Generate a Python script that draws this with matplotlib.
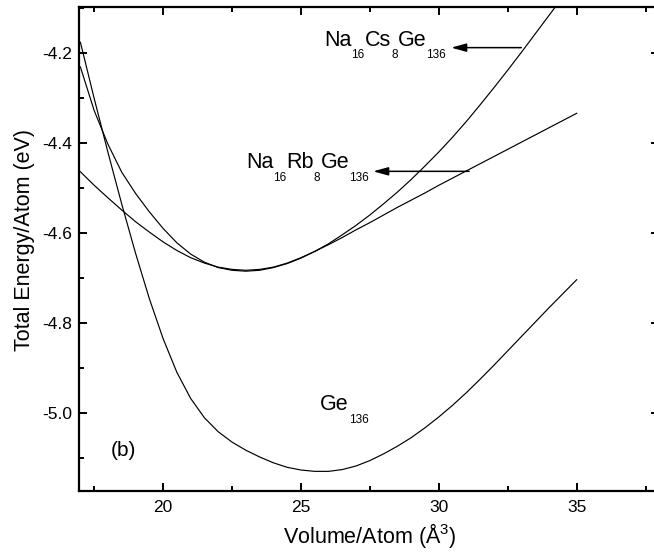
import matplotlib
matplotlib.use("Agg")
import matplotlib.pyplot as plt
from matplotlib.ticker import MultipleLocator

plt.rcParams['font.family'] = ['Liberation Sans', 'DejaVu Sans']
plt.rcParams['mathtext.fontset'] = 'custom'
plt.rcParams['mathtext.rm'] = 'Liberation Sans'

# Ge136
ge_v = [17.0, 17.5, 18.0, 18.5, 19.0, 19.5, 20.0, 20.5, 21.0, 21.5, 22.0, 22.5, 23.0, 23.5,
        24.0, 24.5, 25.0, 25.5, 26.0, 26.5, 27.0, 27.5, 28.0, 28.5, 29.0, 29.5, 30.0, 30.5,
        31.0, 31.5, 32.0, 32.5, 33.0, 33.5, 34.0, 34.5, 35.0]
ge_e = [-4.176, -4.301, -4.421, -4.536, -4.645, -4.746, -4.835, -4.910, -4.968, -5.011,
        -5.042, -5.065, -5.083, -5.098, -5.111, -5.121, -5.127, -5.130, -5.130, -5.126,
        -5.118, -5.106, -5.091, -5.074, -5.055, -5.033, -5.009, -4.983, -4.955, -4.925,
        -4.894, -4.862, -4.830, -4.798, -4.766, -4.735, -4.704]

# Na16Cs8Ge136
cs_v = [17.0, 17.5, 18.0, 18.5, 19.0, 19.5, 20.0, 20.5, 21.0, 21.5, 22.0, 22.5, 23.0, 23.5,
        24.0, 24.5, 25.0, 25.5, 26.0, 26.5, 27.0, 27.5, 28.0, 28.5, 29.0, 29.5, 30.0, 30.5,
        31.0, 31.5, 32.0, 32.5, 33.0, 33.5, 34.0, 34.5]
cs_e = [-4.231, -4.328, -4.403, -4.465, -4.512, -4.553, -4.590, -4.622, -4.647, -4.665,
        -4.677, -4.683, -4.685, -4.683, -4.677, -4.668, -4.656, -4.641, -4.624, -4.604,
        -4.583, -4.560, -4.535, -4.509, -4.481, -4.451, -4.420, -4.387, -4.352, -4.315,
        -4.277, -4.238, -4.198, -4.157, -4.116, -4.075]

# Na16Rb8Ge136
rb_v = [17.0, 17.5, 18.0, 18.5, 19.0, 19.5, 20.0, 20.5, 21.0, 21.5, 22.0, 22.5, 23.0, 23.5,
        24.0, 24.5, 25.0, 25.5, 26.0, 26.5, 27.0, 27.5, 28.0, 28.5, 29.0, 29.5, 30.0, 30.5,
        31.0, 32.0, 33.0, 34.0, 35.0]
rb_e = [-4.464, -4.494, -4.522, -4.549, -4.575, -4.598, -4.620, -4.639, -4.655, -4.667,
        -4.676, -4.681, -4.683, -4.681, -4.676, -4.667, -4.655, -4.641, -4.626, -4.610,
        -4.593, -4.577, -4.560, -4.543, -4.527, -4.511, -4.494, -4.478, -4.462, -4.430,
        -4.398, -4.366, -4.334]

x_ticks = [20, 25, 30, 35]
y_ticks = [-5.0, -4.8, -4.6, -4.4, -4.2]

fig = plt.figure(figsize=(6.54, 5.57), dpi=100)
ax = fig.add_axes([79.3/654, 66.3/557, 580.1/654, 484.0/557])

for v, e in [(ge_v, ge_e), (cs_v, cs_e), (rb_v, rb_e)]:
    ax.plot(v, e, color='black', lw=0.85)

ax.set_xlim(16.96, 38.0)
ax.set_ylim(-5.173, -4.097)
ax.set_xticks(x_ticks)
ax.set_yticks(y_ticks)
ax.set_yticklabels([f"{t:.1f}" for t in y_ticks])
ax.xaxis.set_minor_locator(MultipleLocator(2.5))
ax.yaxis.set_minor_locator(MultipleLocator(0.1))
ax.tick_params(which='both', direction='in', top=True, right=True, width=1.4)
ax.tick_params(which='major', length=5.5, labelsize=12.5)
ax.tick_params(which='minor', length=3.5)
ax.tick_params(axis='y', pad=5)
ax.tick_params(axis='x', pad=7)
for s in ax.spines.values():
    s.set_linewidth(1.6)

ax.set_xlabel(r"Volume/Atom ($\mathregular{\AA^3}$)", fontsize=15.5, labelpad=4)
ax.set_ylabel("Total Energy/Atom (eV)", fontsize=15.5)
ax.yaxis.set_label_coords(-0.077, 0.518)


def formula(x, y, pieces, main_size=15.5, sub_size=8.5, sub_drop=9.0):
    prev = ax.text(x, y, pieces[0][0], fontsize=main_size, va='baseline', ha='left')
    for txt, is_sub in pieces[1:]:
        prev = ax.annotate(txt, xy=(1, y), xycoords=(prev, 'data'),
                           xytext=(0, -sub_drop if is_sub else 0), textcoords='offset points',
                           fontsize=sub_size if is_sub else main_size,
                           va='baseline', ha='left')
    return prev


formula(25.84, -4.184, [("Na", False), ("16", True), ("Cs", False), ("8", True), ("Ge", False), ("136", True)])
formula(23.0, -4.456, [("Na", False), ("16", True), ("Rb", False), ("8", True), ("Ge", False), ("136", True)])
formula(25.7, -4.994, [("Ge", False), ("136", True)])
ax.text(18.09, -5.095, "(b)", fontsize=15, va='baseline', ha='left')

arrow = dict(arrowstyle='-|>,head_length=0.9,head_width=0.25', mutation_scale=10,
             color='black', lw=1.1, shrinkA=0, shrinkB=0)
ax.annotate("", xy=(30.45, -4.188), xytext=(32.99, -4.188), arrowprops=arrow)
ax.annotate("", xy=(27.62, -4.463), xytext=(31.10, -4.463), arrowprops=arrow)

fig.savefig("out.png", dpi=100)
